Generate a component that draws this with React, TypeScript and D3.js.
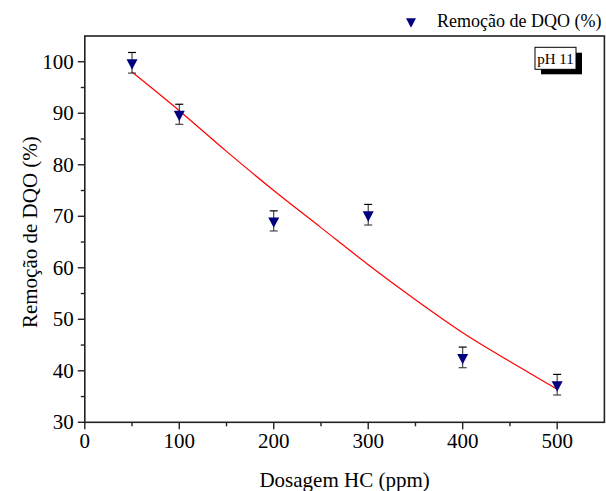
import React from "react";
import * as d3 from "d3";

const doses = [50, 100, 200, 300, 400, 500];
const removal = [99.8, 89.8, 69.1, 70.3, 42.6, 37.3];
const errors = [2.0, 1.95, 1.95, 2.0, 2.0, 2.0];
const fitX = [50, 100, 150, 200, 250, 300, 350, 400, 450, 500];
const fitY = [98.0, 90.5, 82.6, 75.0, 67.8, 60.6, 53.8, 47.4, 41.8, 36.4];
const xTicks = [0, 100, 200, 300, 400, 500];
const yTicks = [30, 40, 50, 60, 70, 80, 90, 100];
const xMinor = [50, 150, 250, 350, 450];
const yMinor = [35, 45, 55, 65, 75, 85, 95];

const W = 606, H = 491;
const M = { left: 84.8, right: 604.4, top: 36, bottom: 422.3 };
const FONT = "'Liberation Serif', 'Times New Roman', serif";

export default function App() {
  const x = d3.scaleLinear().domain([0, 550]).range([M.left, M.right]);
  const y = d3.scaleLinear().domain([30, 105]).range([M.bottom, M.top]);
  const line = d3
    .line<number>()
    .x((_, i) => x(fitX[i]))
    .y((d) => y(d))
    .curve(d3.curveMonotoneX);
  const tri = (cx: number, cy: number, w = 11, h = 10.4) => {
    // centroid at (cx, cy), pointing down
    return `M${cx - w / 2},${cy - h / 3} L${cx + w / 2},${cy - h / 3} L${cx},${cy + (2 * h) / 3} Z`;
  };
  return (
    <svg width={W} height={H} style={{ position: "absolute", left: 0, top: 0, background: "#fff" }}>
      {/* legend */}
      <path d={tri(411, 21.5, 10, 9.5)} fill="#00007f" />
      <text x={437} y={27} fontFamily={FONT} fontSize={18} fill="#000">
        Remoção de DQO (%)
      </text>

      {/* fit curve */}
      <path d={line(fitY) || ""} fill="none" stroke="#ff0000" strokeWidth={1.2} />

      {/* error bars and markers */}
      {doses.map((d, i) => {
        const cx = x(d);
        const top = y(removal[i] + errors[i]);
        const bot = y(removal[i] - errors[i]);
        return (
          <g key={d}>
            <line x1={cx} x2={cx} y1={top} y2={bot} stroke="#222" strokeWidth={1} />
            <line x1={cx - 4} x2={cx + 4} y1={top} y2={top} stroke="#000" strokeWidth={1.2} />
            <line x1={cx - 4} x2={cx + 4} y1={bot} y2={bot} stroke="#444" strokeWidth={1.2} />
            <path d={tri(cx, y(removal[i]))} fill="#00007f" />
          </g>
        );
      })}

      {/* frame */}
      <rect
        x={M.left}
        y={M.top}
        width={M.right - M.left}
        height={M.bottom - M.top}
        fill="none"
        stroke="#222"
        strokeWidth={1.6}
      />

      {/* x ticks */}
      {xTicks.map((t) => (
        <g key={"x" + t}>
          <line x1={x(t)} x2={x(t)} y1={M.bottom} y2={M.bottom + 7} stroke="#222" strokeWidth={1.4} />
          <text x={x(t)} y={M.bottom + 26} textAnchor="middle" fontFamily={FONT} fontSize={21} fill="#000">
            {t}
          </text>
        </g>
      ))}
      {xMinor.map((t) => (
        <line key={"xm" + t} x1={x(t)} x2={x(t)} y1={M.bottom} y2={M.bottom + 4} stroke="#222" strokeWidth={1.4} />
      ))}

      {/* y ticks */}
      {yTicks.map((t) => (
        <g key={"y" + t}>
          <line x1={M.left - 7} x2={M.left} y1={y(t)} y2={y(t)} stroke="#222" strokeWidth={1.4} />
          <text x={M.left - 11} y={y(t) + 7} textAnchor="end" fontFamily={FONT} fontSize={21} fill="#000">
            {t}
          </text>
        </g>
      ))}
      {yMinor.map((t) => (
        <line key={"ym" + t} x1={M.left - 4} x2={M.left} y1={y(t)} y2={y(t)} stroke="#222" strokeWidth={1.4} />
      ))}

      {/* axis titles */}
      <text x={(M.left + M.right) / 2} y={487} textAnchor="middle" fontFamily={FONT} fontSize={21} fill="#000">
        Dosagem HC (ppm)
      </text>
      <text
        transform={`translate(37, ${(M.top + M.bottom) / 2 + 3}) rotate(-90)`}
        textAnchor="middle"
        fontFamily={FONT}
        fontSize={21}
        fill="#000"
      >
        Remoção de DQO (%)
      </text>

      {/* pH label box with shadow */}
      <rect x={541} y={52.7} width={41} height={21.6} fill="#000" />
      <rect x={535} y={47.3} width={41} height={22} fill="#fff" stroke="#000" strokeWidth={1} />
      <text x={555.5} y={64} textAnchor="middle" fontFamily={FONT} fontSize={15} fill="#000">
        pH 11
      </text>
    </svg>
  );
}
